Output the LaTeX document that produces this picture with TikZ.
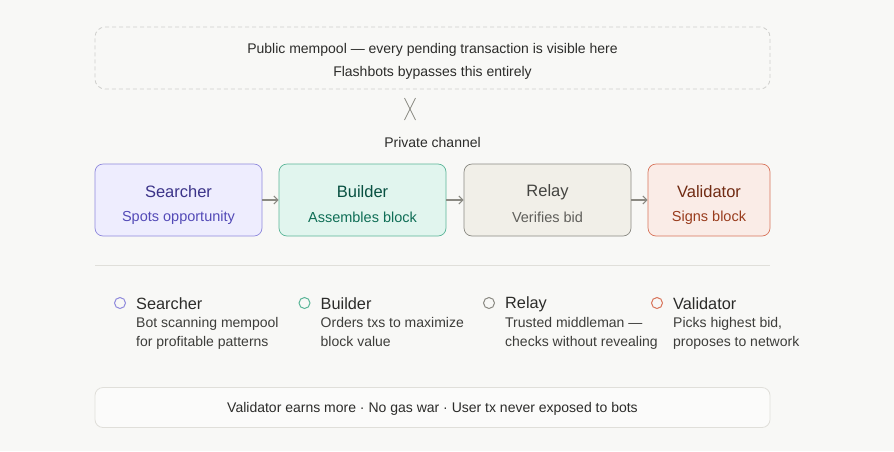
\documentclass[tikz,border=0pt]{standalone}
\usepackage{fontspec}
\setmainfont{Liberation Sans}
\usepackage{tikz}
\usetikzlibrary{positioning, arrows.meta, shapes}
\definecolor{paper}{HTML}{F8F8F6}
\definecolor{inkdark}{HTML}{2C2C2A}
\definecolor{inkmid}{HTML}{3D3D3A}
\definecolor{rulegray}{HTML}{E0DFDA}
\definecolor{dashgray}{HTML}{CFCFCC}
\definecolor{searchfill}{HTML}{EEEDFE}
\definecolor{searchline}{HTML}{8F89DC}
\definecolor{searchtitle}{HTML}{3C3489}
\definecolor{searchtext}{HTML}{534AB7}
\definecolor{buildfill}{HTML}{E1F5EE}
\definecolor{buildline}{HTML}{5BB598}
\definecolor{buildtitle}{HTML}{085041}
\definecolor{buildtext}{HTML}{0F6E56}
\definecolor{relayfill}{HTML}{F1EFE8}
\definecolor{relayline}{HTML}{8A8982}
\definecolor{relaytitle}{HTML}{444441}
\definecolor{relaytext}{HTML}{5F5E5A}
\definecolor{valfill}{HTML}{FAECE7}
\definecolor{valline}{HTML}{D8745A}
\definecolor{valtitle}{HTML}{712B13}
\definecolor{valtext}{HTML}{993C1D}

\begin{document}
\begin{tikzpicture}[x=1pt, y=-1pt]
    \tikzstyle{every node}=[font=\fontsize{14}{16}\selectfont, inner sep=0pt]
    \tikzstyle{stage} = [rectangle, rounded corners=8pt, line width=0.7pt, minimum height=72pt]
    \tikzstyle{title} = [font=\fontsize{16.5}{18}\selectfont]
    \tikzstyle{sub} = [font=\fontsize{14.5}{16}\selectfont]
    \tikzstyle{flow} = [-{Straight Barb[length=4pt, width=8pt]}, line width=1.1pt, draw=relayline]
    \tikzstyle{dot} = [circle, minimum size=11pt, line width=1pt, fill=paper]
    \tikzstyle{keyname} = [anchor=west, font=\fontsize{16.3}{18}\selectfont, text=inkdark]
    \tikzstyle{keytext} = [anchor=north west, align=left, text=inkmid, font=\fontsize{14}{19}\selectfont]

    \fill[paper] (0,0) rectangle (894,451);
    \useasboundingbox (0,0) rectangle (894,451);

    % public mempool, skipped
    \node[draw=dashgray, dashed, dash pattern=on 4pt off 3pt, rounded corners=10pt, line width=0.8pt,
          minimum width=675pt, minimum height=62pt] (pool) at (432.5,58) {};
    \node[text=inkdark] (pool1) at (432.5,50) {Public mempool — every pending transaction is visible here};
    \node[text=inkdark] (pool2) at (432.5,72.5) {Flashbots bypasses this entirely};
    \draw[relayline, line width=0.8pt] (404.5,98) -- (415.5,120);
    \draw[relayline, line width=0.8pt] (415.5,98) -- (404.5,120);
    \node[text=inkdark] (private) at (432.5,142.5) {Private channel};

    % the four stages
    \node[stage, draw=searchline, fill=searchfill, minimum width=167pt] (v1) at (178.5,200) {};
    \node[stage, draw=buildline, fill=buildfill, minimum width=167pt] (v2) at (362.5,200) {};
    \node[stage, draw=relayline, fill=relayfill, minimum width=167pt] (v3) at (547.5,200) {};
    \node[stage, draw=valline, fill=valfill, minimum width=122pt] (v4) at (709,200) {};

    \node[title, text=searchtitle] (t1) at (178.5,192) {Searcher};
    \node[sub, text=searchtext] (s1) at (178.5,217.5) {Spots opportunity};
    \node[title, text=buildtitle] (t2) at (362.5,192) {Builder};
    \node[sub, text=buildtext] (s2) at (362.5,217.5) {Assembles block};
    \node[title, text=relaytitle] (t3) at (547.5,192) {Relay};
    \node[sub, text=relaytext] (s3) at (547.5,217.5) {Verifies bid};
    \node[title, text=valtitle] (t4) at (709,192) {Validator};
    \node[sub, text=valtext] (s4) at (709,217.5) {Signs block};

    \draw[flow] (v1) -- (v2);
    \draw[flow] (v2) -- (v3);
    \draw[flow] (v3) -- (v4);

    \draw[rulegray, line width=0.8pt] (95,265.5) -- (770,265.5);

    % legend
    \node[dot, draw=searchline] (k1) at (120,303) {};
    \node[keyname] (n1) at (136,304) {Searcher};
    \node[keytext] (d1) at (136,317) {Bot scanning mempool\\for profitable patterns};
    \node[dot, draw=buildline] (k2) at (304.5,303) {};
    \node[keyname] (n2) at (320.5,304) {Builder};
    \node[keytext] (d2) at (320.5,317) {Orders txs to maximize\\block value};
    \node[dot, draw=relayline] (k3) at (489,303) {};
    \node[keyname] (n3) at (505,304) {Relay};
    \node[keytext] (d3) at (505,317) {Trusted middleman —\\checks without revealing};
    \node[dot, draw=valline] (k4) at (657,303) {};
    \node[keyname] (n4) at (673,304) {Validator};
    \node[keytext] (d4) at (673,317) {Picks highest bid,\\proposes to network};

    % outcome
    \node[draw=rulegray, fill=paper!60!white, rounded corners=8pt, line width=0.8pt,
          minimum width=675pt, minimum height=40pt] (outcome) at (432.5,407.5) {};
    \node[text=inkdark] (result) at (432.5,409) {Validator earns more · No gas war · User tx never exposed to bots};
\end{tikzpicture}
\end{document}
